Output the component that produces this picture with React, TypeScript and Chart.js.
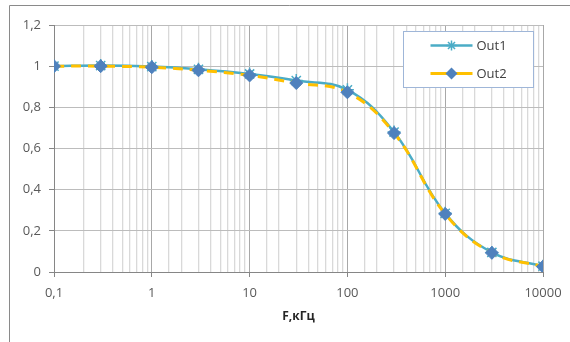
import React, { useEffect, useRef } from 'react';
import { Chart, registerables } from 'chart.js';

Chart.register(...registerables);

const frequencies = [0.1, 0.3, 1, 3, 10, 30, 100, 300, 1000, 3000, 10000];
const out1 = [1.0, 1.003, 0.998, 0.985, 0.962, 0.93, 0.885, 0.68, 0.285, 0.095, 0.028];
const out2 = [1.0, 1.0, 0.995, 0.98, 0.955, 0.918, 0.873, 0.675, 0.282, 0.093, 0.026];
const seriesNames = ['Out1', 'Out2'];
const xTitle = 'F,кГц';
const yMin = 0;
const yMax = 1.2;
const yStep = 0.2;
const xMin = 0.1;
const xMax = 10000;

const TEAL = '#4BACC6';
const YELLOW = '#FFC000';
const BLUE = '#4F81BD';
const FONT = '"Open Sans", "Noto Sans", sans-serif';

function isDecade(v: number) {
  const l = Math.log10(v);
  return Math.abs(l - Math.round(l)) < 1e-9;
}

function drawStar(ctx: CanvasRenderingContext2D, x: number, y: number, r: number) {
  ctx.beginPath();
  ctx.moveTo(x - r, y); ctx.lineTo(x + r, y);
  ctx.moveTo(x, y - r); ctx.lineTo(x, y + r);
  const d = r * Math.SQRT1_2;
  ctx.moveTo(x - d, y - d); ctx.lineTo(x + d, y + d);
  ctx.moveTo(x - d, y + d); ctx.lineTo(x + d, y - d);
  ctx.stroke();
}

function drawDiamond(ctx: CanvasRenderingContext2D, x: number, y: number, r: number) {
  ctx.beginPath();
  ctx.moveTo(x, y - r); ctx.lineTo(x + r, y); ctx.lineTo(x, y + r); ctx.lineTo(x - r, y);
  ctx.closePath();
  ctx.fill();
}

const framePlugin = {
  id: 'frame',
  beforeDraw(chart: any) {
    const ctx = chart.ctx as CanvasRenderingContext2D;
    ctx.save();
    ctx.fillStyle = '#ffffff';
    ctx.fillRect(0, 0, chart.width, chart.height);
    ctx.strokeStyle = '#8a8a8a';
    ctx.lineWidth = 1;
    ctx.beginPath();
    ctx.moveTo(9.5, chart.height);
    ctx.lineTo(9.5, 5.5);
    ctx.lineTo(chart.width, 5.5);
    ctx.stroke();
    ctx.restore();
  },
};

const legendPlugin = {
  id: 'insideLegend',
  afterDatasetsDraw(chart: any) {
    const ctx = chart.ctx as CanvasRenderingContext2D;
    const area = chart.chartArea;
    const w = 130, h = 56;
    const x0 = Math.round(area.right - 10 - w) + 0.5;
    const y0 = Math.round(area.top + 6) + 0.5;
    ctx.save();
    ctx.fillStyle = '#ffffff';
    ctx.fillRect(x0, y0, w, h);
    ctx.strokeStyle = '#9fb6d8';
    ctx.lineWidth = 1;
    ctx.strokeRect(x0, y0, w, h);
    const rows = [y0 + 14, y0 + 42];
    const lx1 = x0 + 27, lx2 = x0 + 69, cx = (lx1 + lx2) / 2;
    // Out1
    ctx.strokeStyle = TEAL;
    ctx.lineWidth = 2.5;
    ctx.beginPath(); ctx.moveTo(lx1, rows[0]); ctx.lineTo(lx2, rows[0]); ctx.stroke();
    ctx.lineWidth = 1.5;
    drawStar(ctx, cx, rows[0], 5);
    // Out2
    ctx.strokeStyle = YELLOW;
    ctx.lineWidth = 3;
    ctx.beginPath(); ctx.moveTo(lx1, rows[1]); ctx.lineTo(cx - 4, rows[1]); ctx.moveTo(cx + 4, rows[1]); ctx.lineTo(lx2, rows[1]); ctx.stroke();
    ctx.fillStyle = BLUE;
    drawDiamond(ctx, cx, rows[1], 6);
    ctx.fillStyle = '#404040';
    ctx.font = `13px ${FONT}`;
    ctx.textBaseline = 'middle';
    ctx.textAlign = 'left';
    ctx.fillText(seriesNames[0], lx2 + 4, rows[0] + 1);
    ctx.fillText(seriesNames[1], lx2 + 4, rows[1] + 1);
    ctx.restore();
  },
};

export default function App() {
  const ref = useRef<HTMLCanvasElement | null>(null);
  useEffect(() => {
    document.body.style.margin = '0';
    const canvas = ref.current;
    if (!canvas) return;
    const chart = new Chart(canvas, {
      type: 'line',
      data: {
        datasets: [
          {
            label: seriesNames[1],
            data: frequencies.map((f, i) => ({ x: f, y: out2[i] })),
            borderColor: YELLOW,
            borderWidth: 3,
            borderDash: [10, 7],
            pointStyle: 'rectRot',
            pointRadius: 6.5,
            pointBackgroundColor: BLUE,
            pointBorderColor: BLUE,
            pointBorderWidth: 1,
            tension: 0.4,
            fill: false,
            order: 1,
          },
          {
            label: seriesNames[0],
            data: frequencies.map((f, i) => ({ x: f, y: out1[i] })),
            borderColor: TEAL,
            borderWidth: 2.5,
            pointStyle: 'star',
            pointRadius: 6.5,
            pointBorderColor: TEAL,
            pointBackgroundColor: TEAL,
            pointBorderWidth: 1.5,
            tension: 0.4,
            fill: false,
            order: 2,
          },
        ],
      },
      options: {
        animation: false,
        responsive: false,
        maintainAspectRatio: false,
        layout: { padding: { left: 0, right: 27, top: 25, bottom: 0 } },
        plugins: {
          legend: { display: false },
          tooltip: { enabled: false },
        },
        scales: {
          x: {
            type: 'logarithmic',
            min: xMin,
            max: xMax,
            afterFit: (scale: any) => { scale.height = 70; },
            border: { color: '#868686', width: 1 },
            grid: {
              color: (c: any) => (c.tick && isDecade(c.tick.value) ? '#a8a8a8' : '#d9d9d9'),
              lineWidth: (c: any) => (c.tick && isDecade(c.tick.value) ? 1 : 1.3),
              tickColor: (c: any) => (c.tick && isDecade(c.tick.value) ? '#868686' : 'rgba(0,0,0,0)'),
              tickLength: 5,
            },
            ticks: {
              autoSkip: false,
              maxRotation: 0,
              padding: 8,
              color: '#595959',
              font: { family: FONT, size: 13 },
              callback: (v: any) => {
                const n = Number(v);
                if (!isDecade(n)) return '';
                return n < 1 ? String(n).replace('.', ',') : String(Math.round(n));
              },
            },
            title: {
              display: true,
              text: xTitle,
              color: '#262626',
              font: { family: FONT, size: 12, weight: 'bold' },
              padding: { top: 0, bottom: 18 },
            },
          },
          y: {
            type: 'linear',
            min: yMin,
            max: yMax,
            afterFit: (scale: any) => { scale.width = 54; },
            border: { color: '#868686', width: 1 },
            grid: {
              color: '#bcbcbc',
              tickColor: '#868686',
              tickLength: 5,
            },
            ticks: {
              stepSize: yStep,
              padding: 8,
              color: '#595959',
              font: { family: FONT, size: 13 },
              callback: (v: any) => String(Number(Number(v).toFixed(1))).replace('.', ','),
            },
          },
        },
      },
      plugins: [framePlugin, legendPlugin],
    } as any);
    return () => chart.destroy();
  }, []);
  return (
    <div style={{ width: 570, height: 342, overflow: 'hidden' }}>
      <canvas ref={ref} width={570} height={342} style={{ display: 'block' }} />
    </div>
  );
}
